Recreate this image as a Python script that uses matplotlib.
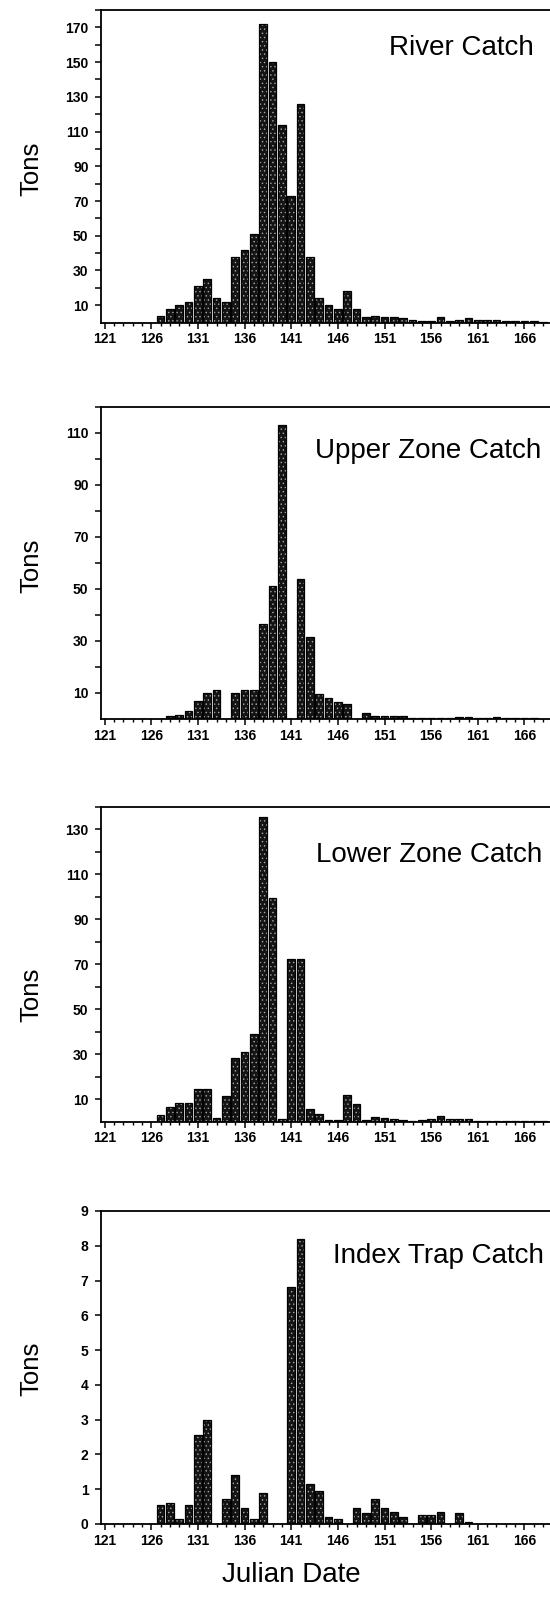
import matplotlib
matplotlib.use("Agg")
import matplotlib.pyplot as plt
import numpy as np
from matplotlib.ticker import FixedLocator, NullFormatter

# ---------------- data ----------------
days = list(range(121, 169))

river = [0, 0, 0, 0, 0, 0,
         4, 8, 10, 12, 21, 25, 14, 12, 38, 42, 51, 172, 150, 114, 73, 126, 38,
         14, 10, 8, 18, 8, 3.5, 4, 3, 3, 2.5, 1.5, 1.2, 1.2, 3, 1.2, 1.5, 2.5,
         1.5, 1.5, 1.5, 1, 1, 1, 0.8, 0.5]

upper = [0, 0, 0, 0, 0, 0, 0,
         1.2, 1.4, 3, 6.8, 10, 11.3, 0, 10, 11.2, 11.3, 36.5, 51, 113, 0, 54,
         31.5, 9.6, 8.1, 6.6, 5.7, 0, 2.2, 1.3, 1.0, 1.0, 1.0, 0.5, 0.2, 0.2,
         0.3, 0.5, 0.7, 0.7, 0.5, 0.3, 0.9, 0.3, 0.2, 0.2, 0.2, 0.1]

lower = [0, 0, 0, 0, 0, 0,
         3, 6.5, 8.2, 8.5, 14.4, 14.4, 1.5, 11.4, 28.2, 31.2, 39.2, 135.5, 99.5,
         1, 72.5, 72.5, 5.8, 3.4, 0.8, 0.6, 12, 8, 0.8, 2, 1.6, 1, 0.8, 0.3,
         0.8, 1, 2.4, 1, 1, 1, 0.3, 0.3, 0.3, 0.3, 0.3, 0.3, 0.3, 0.3]

index_trap = [0, 0, 0, 0, 0, 0,
              0.55, 0.6, 0.15, 0.55, 2.55, 3.0, 0, 0.7, 1.4, 0.45, 0.15, 0.9,
              0, 0, 6.8, 8.2, 1.15, 0.95, 0.2, 0.15, 0, 0.45, 0.3, 0.7, 0.45,
              0.35, 0.2, 0, 0.25, 0.25, 0.35, 0, 0.3, 0.05, 0, 0, 0, 0, 0, 0,
              0, 0]

series = [river, upper, lower, index_trap]
titles = ["River Catch", "Upper Zone Catch", "Lower Zone Catch", "Index Trap Catch"]
ytops = [180, 120, 140, 9]
xtick_labels = [121, 126, 131, 136, 141, 146, 151, 156, 161, 166]

# ---------------- style ----------------
plt.rcParams["font.family"] = ["Liberation Sans", "DejaVu Sans"]
plt.rcParams["hatch.color"] = "#a8a8a8"
plt.rcParams["hatch.linewidth"] = 0.5

W, H = 550, 1604
fig = plt.figure(figsize=(W / 100, H / 100), dpi=100)

px_per_day = 9.33
x_left_px = 101
xmin, xmax = 120.61, 170.0
ax_w_px = (xmax - xmin) * px_per_day

panels_px = [(10, 322.6), (407, 719), (807, 1121.7), (1211, 1523.8)]
title_px = [(389, 55), (315, 458.3), (316, 861.7), (333, 1263.3)]
tons_y_px = [169, 566, 995, 1369]

for i, (vals, title, ytop) in enumerate(zip(series, titles, ytops)):
    top, bot = panels_px[i]
    ax = fig.add_axes([x_left_px / W, 1 - bot / H, ax_w_px / W, (bot - top) / H])
    ax.bar(days, vals, width=0.82, color="#141414", hatch="....", linewidth=0)
    ax.bar(days, vals, width=0.82, fill=False, edgecolor="black", linewidth=0.9)
    ax.set_xlim(xmin, xmax)
    ax.set_ylim(0, ytop)

    for s in ["left", "top", "bottom"]:
        ax.spines[s].set_linewidth(1.3)
    ax.spines["right"].set_visible(False)

    ax.xaxis.set_major_locator(FixedLocator(xtick_labels))
    ax.xaxis.set_minor_locator(FixedLocator(days))
    ax.set_xticklabels([str(d) for d in xtick_labels])

    if ytop == 9:
        ax.yaxis.set_major_locator(FixedLocator(list(range(0, 10))))
        ax.yaxis.set_minor_locator(FixedLocator([]))
    else:
        majors = list(range(10, ytop, 20))
        minors = list(range(20, ytop + 1, 20))
        ax.yaxis.set_major_locator(FixedLocator(majors))
        ax.yaxis.set_minor_locator(FixedLocator(minors))
    ax.yaxis.set_minor_formatter(NullFormatter())

    ax.tick_params(axis="x", which="major", direction="out", length=4,
                   width=1.1, pad=3, labelsize=10)
    ax.tick_params(axis="x", which="minor", direction="out", length=2,
                   width=1.0)
    ax.tick_params(axis="y", which="both", direction="out", length=4,
                   width=1.1, pad=5, labelsize=10)
    for lab in ax.get_xticklabels() + ax.get_yticklabels():
        lab.set_fontweight("bold")

    tx, ty = title_px[i]
    fig.text(tx / W, 1 - ty / H, title, fontsize=20, ha="left",
             va="baseline", color="black")
    fig.text(31 / W, 1 - tons_y_px[i] / H, "Tons", fontsize=18.5, rotation=90,
             ha="center", va="center")

fig.text(291 / W, 1 - 1575 / H, "Julian Date", fontsize=20, ha="center",
         va="center")

fig.savefig("out.png", dpi=100)
